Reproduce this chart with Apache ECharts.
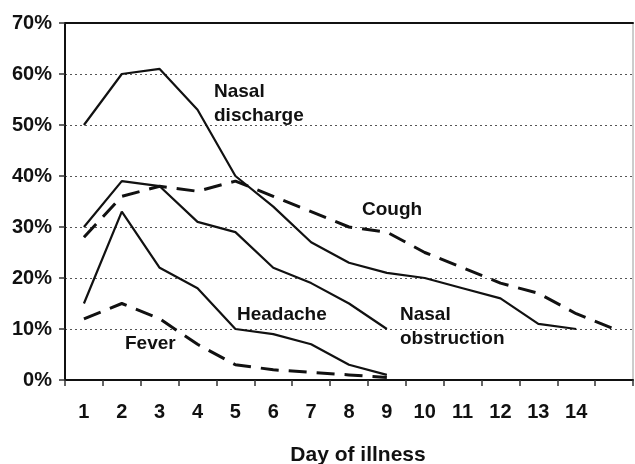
<!DOCTYPE html>
<html>
<head>
<meta charset="utf-8">
<script src="https://cdn.jsdelivr.net/npm/echarts@6/dist/echarts.min.js"></script>
<style>html,body{margin:0;padding:0;background:#fff}#c{width:635px;height:464px}</style>
</head>
<body>
<div id="c"></div>
<script>
var days = ['1','2','3','4','5','6','7','8','9','10','11','12','13','14',''];
var yTicks = [0,10,20,30,40,50,60,70];
var nasalDischarge = [50,60,61,53,40,34,27,23,21,20,18,16,11,10];
var cough = [28,36,38,37,39,36,33,30,29,25,22,19,17,13,10];
var nasalObstruction = [30,39,38,31,29,22,19,15,10];
var headache = [15,33,22,18,10,9,7,3,1];
var fever = [12,15,12,7,3,2,1.5,1,0.5];

var chart = echarts.init(document.getElementById('c'));
var F = '"Liberation Sans", Arial, sans-serif';
function line(name, data, dashed) {
  return {
    name: name, type: 'line', data: data, symbol: 'none', silent: true,
    lineStyle: dashed ? { color: '#111', width: 3, type: [18, 10] } : { color: '#111', width: 2.2, type: 'solid' }
  };
}
chart.setOption({
  animation: false,
  backgroundColor: '#fff',
  grid: { left: 65, right: 2, top: 23, bottom: 84, containLabel: false, outerBoundsMode: 'none',
          show: true, borderColor: '#9a9a9a', borderWidth: 1 },
  xAxis: [{
    type: 'category', data: days, boundaryGap: true,
    axisLine: { lineStyle: { color: '#111', width: 2 } },
    axisTick: { show: true, length: 6, inside: false, lineStyle: { color: '#333', width: 1.5 } },
    axisLabel: { color: '#111', fontFamily: F, fontWeight: 'bold', fontSize: 20, margin: 22 },
    name: 'Day of illness', nameLocation: 'middle', nameGap: 65,
    nameTextStyle: { color: '#111', fontFamily: F, fontWeight: 'bold', fontSize: 21, padding: [0, 0, 0, 18] },
    splitLine: { show: false }
  }, {
    type: 'category', data: days, position: 'top',
    axisLine: { show: true, lineStyle: { color: '#111', width: 2 } },
    axisTick: { show: false }, axisLabel: { show: false }
  }],
  yAxis: {
    type: 'value', min: 0, max: 70, interval: 10,
    axisLine: { show: true, lineStyle: { color: '#111', width: 2 } },
    axisTick: { show: true, length: 6, lineStyle: { color: '#333', width: 1.5 } },
    axisLabel: { formatter: '{value}%', color: '#111', fontFamily: F, fontWeight: 'bold', fontSize: 20, margin: 13 },
    splitLine: { show: true, lineStyle: { color: '#555', width: 1.2, type: [2, 3] } }
  },
  series: [
    line('Nasal discharge', nasalDischarge, false),
    line('Cough', cough, true),
    line('Nasal obstruction', nasalObstruction, false),
    line('Headache', headache, false),
    line('Fever', fever, true)
  ],
  graphic: [
    { type: 'text', left: 214, top: 80, style: { text: 'Nasal\ndischarge', font: 'bold 19px ' + F, fill: '#111', lineHeight: 24 } },
    { type: 'text', left: 362, top: 198, style: { text: 'Cough', font: 'bold 19px ' + F, fill: '#111', lineHeight: 24 } },
    { type: 'text', left: 237, top: 303, style: { text: 'Headache', font: 'bold 19px ' + F, fill: '#111', lineHeight: 24 } },
    { type: 'text', left: 125, top: 332, style: { text: 'Fever', font: 'bold 19px ' + F, fill: '#111', lineHeight: 24 } },
    { type: 'text', left: 400, top: 303, style: { text: 'Nasal\nobstruction', font: 'bold 19px ' + F, fill: '#111', lineHeight: 24 } }
  ]
});
</script>
</body>
</html>
